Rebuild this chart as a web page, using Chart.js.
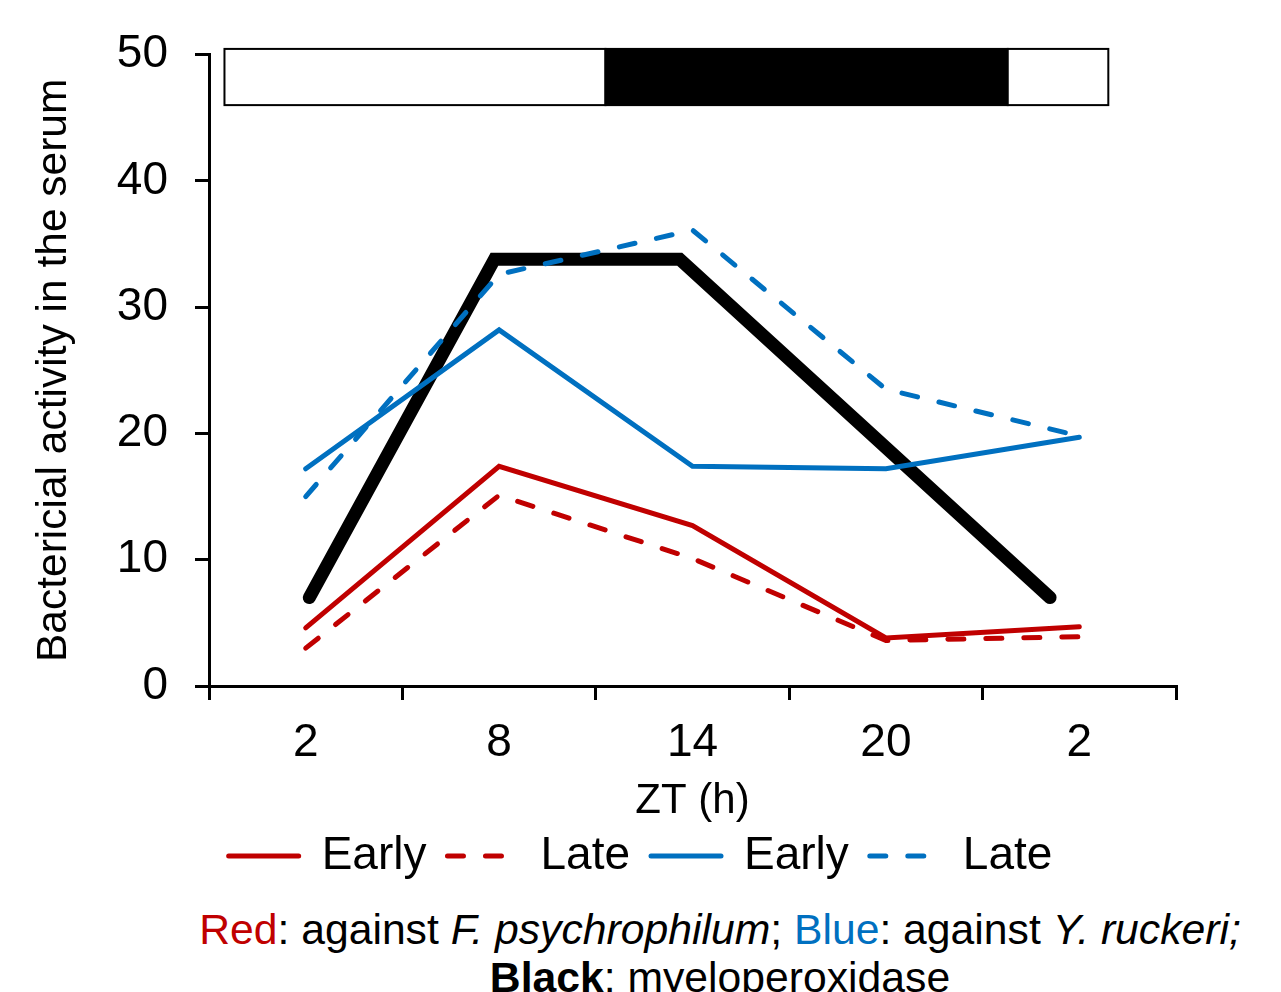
<!DOCTYPE html>
<html>
<head>
<meta charset="utf-8">
<script src="https://cdn.jsdelivr.net/npm/chart.js@4.4.1/dist/chart.umd.min.js"></script>
<style>
  body { margin: 0; background: #fff; width: 1281px; height: 992px; overflow: hidden; position: relative; font-family: 'Liberation Sans', Arial, sans-serif; }
  #wrap { position: absolute; left: 0; top: 0; width: 1281px; height: 889px; }
  #caption { position: absolute; left: 159px; width: 1122px; top: 905px; text-align: center; font-size: 42.7px; line-height: 48px; white-space: nowrap; color: #000; }
</style>
</head>
<body>
<div id="wrap"><canvas id="ztChart"></canvas></div>
<div id="caption">
  <span style="color:#C00000">Red</span>: against <i>F. psychrophilum</i>; <span style="color:#0070C0">Blue</span>: against <i>Y. ruckeri;</i><br>
  <b>Black</b>: myeloperoxidase
</div>
<script>
// ZT sampling points (h)
const ztLabels = ['2', '8', '14', '20', '2'];

// bactericidal activity
const redEarly = [4.6, 17.4, 12.7, 3.8, 4.7];
const redLate = [3.0, 15.1, 10.1, 3.6, 3.9];
const blueEarly = [17.2, 28.2, 17.4, 17.2, 19.7];
const blueLate = [15.0, 32.6, 36.1, 23.5, 19.8];
const myeloperoxidase = [7.0, 33.8, 33.8, 20.4, 7.0];

// light / dark bar (edges in sampling-point units, value range on y)
const lightDarkEdges = [-0.42, 1.55, 3.63, 4.15];
const lightDarkFill = ['#ffffff', '#000000', '#ffffff'];
const barRange = [46.0, 50.45];

const yTicks = [0, 10, 20, 30, 40, 50];

Chart.defaults.font.family = "'Liberation Sans', Arial, sans-serif";
Chart.defaults.color = '#000';

const RED = '#C00000';
const BLUE = '#0070C0';

const lightDarkBar = {
    id: 'lightDarkBar',
    afterDatasetsDraw(chart) {
        const { ctx, scales: { x, y } } = chart;
        const top = y.getPixelForValue(barRange[1]);
        const bottom = y.getPixelForValue(barRange[0]);
        ctx.save();
        ctx.lineWidth = 2;
        ctx.strokeStyle = '#000';
        for (let i = 0; i < lightDarkFill.length; i++) {
            const x0 = x.getPixelForValue(lightDarkEdges[i]);
            const x1 = x.getPixelForValue(lightDarkEdges[i + 1]);
            ctx.fillStyle = lightDarkFill[i];
            ctx.fillRect(x0, top, x1 - x0, bottom - top);
            ctx.strokeRect(x0, top, x1 - x0, bottom - top);
        }
        ctx.restore();
    }
};

function seriesLine(label, data, color, dashed) {
    return {
        label: label,
        data: data,
        borderColor: color,
        backgroundColor: color,
        borderWidth: 5,
        borderDash: dashed ? [16, 22] : [],
        borderCapStyle: 'round',
        pointRadius: 0,
        tension: 0,
        fill: false
    };
}

const ctx = document.getElementById('ztChart').getContext('2d');
new Chart(ctx, {
    type: 'line',
    data: {
        labels: ztLabels,
        datasets: [
            seriesLine('Early', redEarly, RED, false),
            seriesLine('Late', redLate, RED, true),
            seriesLine('Early', blueEarly, BLUE, false),
            seriesLine('Late', blueLate, BLUE, true),
            {
                label: 'Myeloperoxidase',
                data: myeloperoxidase.map((v, i) => ({ x: i, y: v })),
                xAxisID: 'xb',
                borderColor: '#000',
                borderWidth: 13,
                borderCapStyle: 'round',
                pointRadius: 0,
                tension: 0,
                fill: false,
                clip: false
            }
        ]
    },
    options: {
        responsive: true,
        maintainAspectRatio: false,
        animation: false,
        layout: { padding: { top: 54, right: 0, left: 0, bottom: 0 } },
        plugins: {
            tooltip: { enabled: false },
            legend: {
                position: 'bottom',
                labels: {
                    usePointStyle: true,
                    pointStyleWidth: 70,
                    font: { size: 46 },
                    color: '#000',
                    padding: 21,
                    generateLabels: chart => chart.data.datasets.slice(0, 4).map((ds, i) => ({
                        text: ds.label,
                        fillStyle: ds.borderColor,
                        strokeStyle: ds.borderColor,
                        lineWidth: ds.borderWidth,
                        lineDash: ds.borderDash,
                        lineCap: 'round',
                        pointStyle: 'line',
                        fontColor: '#000',
                        hidden: false,
                        datasetIndex: i
                    }))
                }
            }
        },
        scales: {
            x: {
                type: 'category',
                offset: true,
                grid: { offset: true, drawOnChartArea: false, drawTicks: true, tickLength: 14, color: '#000', lineWidth: 3 },
                border: { color: '#000', width: 3 },
                ticks: { font: { size: 46 }, color: '#000', padding: 16, maxRotation: 0, autoSkip: false },
                title: { display: true, text: 'ZT (h)', font: { size: 42 }, color: '#000', padding: { top: 0, bottom: -15 } },
                afterFit: s => { s.height = 126; }
            },
            xb: { type: 'linear', display: false, min: -0.5416, max: 4.68 },
            y: {
                min: 0,
                max: 50,
                afterBuildTicks: s => { s.ticks = yTicks.map(v => ({ value: v })); },
                ticks: { font: { size: 46 }, color: '#000', padding: 27 },
                grid: { drawOnChartArea: false, tickLength: 14, color: '#000', lineWidth: 3 },
                border: { color: '#000', width: 3 },
                title: { display: true, text: 'Bactericial activity in the serum', font: { size: 42.5 }, color: '#000', padding: { top: 29, bottom: 0 } },
                afterFit: s => { s.width = 209; }
            },
            yr: {
                position: 'right',
                display: true,
                grid: { display: false },
                border: { display: false },
                ticks: { display: false },
                afterFit: s => { s.width = 105; }
            }
        }
    },
    plugins: [lightDarkBar]
});
</script>
</body>
</html>
